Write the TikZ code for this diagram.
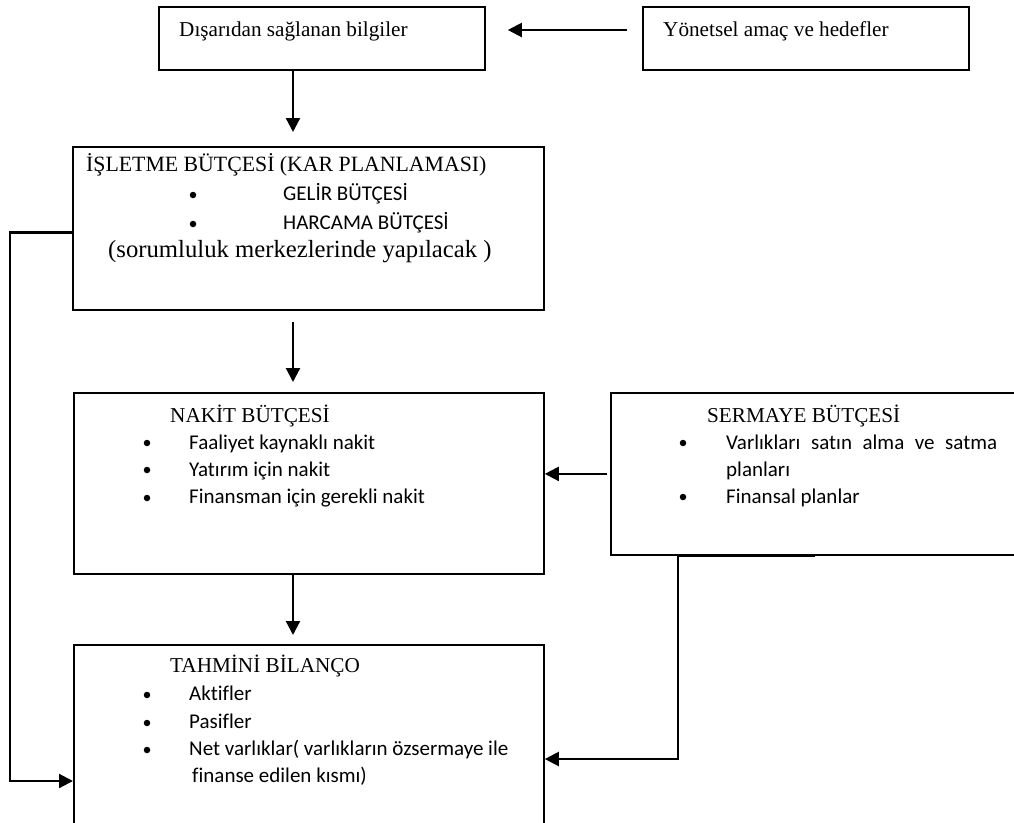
\documentclass[tikz,border=0pt]{standalone}
\usepackage{fontspec}
\setmainfont{Liberation Serif}
\newfontfamily\calibrifont[Ligatures=NoCommon]{Carlito}
\usetikzlibrary{arrows.meta}
\begin{document}
\begin{tikzpicture}[x=1pt,y=-1pt,
  box/.style={draw, line width=1.8pt, inner sep=0pt, anchor=north west},
  serif/.style={inner sep=0pt, anchor=base west, font=\fontsize{21.2}{25}\selectfont},
  sans/.style={inner sep=0pt, anchor=base west, font=\calibrifont\fontsize{21}{25}\selectfont},
  bul/.style={circle, fill, inner sep=0pt, minimum size=6.5pt},
  conn/.style={line width=2.2pt},
  arr/.style={conn, -{Triangle[length=14pt,width=14pt]}}]
\useasboundingbox (0,0) rectangle (1014,822);
\clip (0,0) rectangle (1014,822);

% boxes
\node[box, minimum width=326pt, minimum height=63pt]  (dis) at (158,6) {};
\node[box, minimum width=326pt, minimum height=63pt]  (yon) at (642,6) {};
\node[box, minimum width=471pt, minimum height=163pt] (isl) at (72,146) {};
\node[box, minimum width=470pt, minimum height=181pt] (nak) at (73,392) {};
\node[box, minimum width=420pt, minimum height=162pt] (ser) at (610,392) {};
\node[box, minimum width=470pt, minimum height=200pt] (tah) at (73,644) {};

% top row
\node[serif] (t-dis) at (179,36) {Dışarıdan sağlanan bilgiler};
\node[serif] (t-yon) at (663,36) {Yönetsel amaç ve hedefler};

% operating budget
\node[serif, font=\fontsize{21.8}{25}\selectfont] (t-isl) at (86,171) {İŞLETME BÜTÇESİ (KAR PLANLAMASI)};
\node[bul] (b-i1) at (193,195) {};
\node[sans] (t-i1) at (283,200) {GELİR BÜTÇESİ};
\node[bul] (b-i2) at (193,224) {};
\node[sans] (t-i2) at (283,229) {HARCAMA BÜTÇESİ};
\node[serif, font=\fontsize{24.7}{28}\selectfont] (t-i3) at (108,257) {(sorumluluk merkezlerinde yapılacak )};

% cash budget
\node[serif] (t-nak) at (170,422) {NAKİT BÜTÇESİ};
\node[bul] (b-n1) at (147,443) {};
\node[sans] (t-n1) at (189,449) {Faaliyet kaynaklı nakit};
\node[bul] (b-n2) at (147,470) {};
\node[sans] (t-n2) at (189,476) {Yatırım için nakit};
\node[bul] (b-n3) at (147,498) {};
\node[sans] (t-n3) at (189,503) {Finansman için gerekli nakit};

% capital budget
\node[serif] (t-ser) at (707,422) {SERMAYE BÜTÇESİ};
\node[bul] (b-s1) at (683,443) {};
\node[sans] (t-s1) at (726,449) {\hbox to 271pt{Varlıkları\hfill satın\hfill alma\hfill ve\hfill satma}};
\node[sans] (t-s1b) at (726,476) {planları};
\node[bul] (b-s2) at (683,497) {};
\node[sans] (t-s2) at (726,503) {Finansal planlar};

% projected balance sheet
\node[serif] (t-tah) at (170,672) {TAHMİNİ BİLANÇO};
\node[bul] (b-t1) at (147,695) {};
\node[sans] (t-t1) at (189,700) {Aktifler};
\node[bul] (b-t2) at (147,723) {};
\node[sans] (t-t2) at (189,728) {Pasifler};
\node[bul] (b-t3) at (147,750) {};
\node[sans] (t-t3) at (189,755) {Net varlıklar( varlıkların özsermaye ile};
\node[sans] (t-t3b) at (192,782) {finanse edilen kısmı)};

% connectors
\coordinate (ax) at (293,0);
\coordinate (ay) at (0,30);
\coordinate (lb) at (10,781);
\coordinate (rb) at (678,759);
\draw[arr, shorten <=15pt, shorten >=22pt] (yon.west |- ay) -- (dis.east |- ay);
\draw[arr, shorten >=14pt] (ax |- dis.south) -- (ax |- isl.north);
\draw[arr, shorten <=11pt, shorten >=10pt] (ax |- isl.south) -- (ax |- nak.north);
\draw[arr, shorten >=9pt] (ax |- nak.south) -- (ax |- tah.north);
\draw[arr, shorten <=3pt] (ser.west) -- (nak.east |- ser.west);
\draw[arr] ([yshift=-4pt]isl.west) -| (lb) -- (lb -| tah.west);
\draw[arr] ([xshift=205pt]ser.south west) -- (rb |- ser.south) -- (rb) -- (rb -| tah.east);
\end{tikzpicture}
\end{document}
